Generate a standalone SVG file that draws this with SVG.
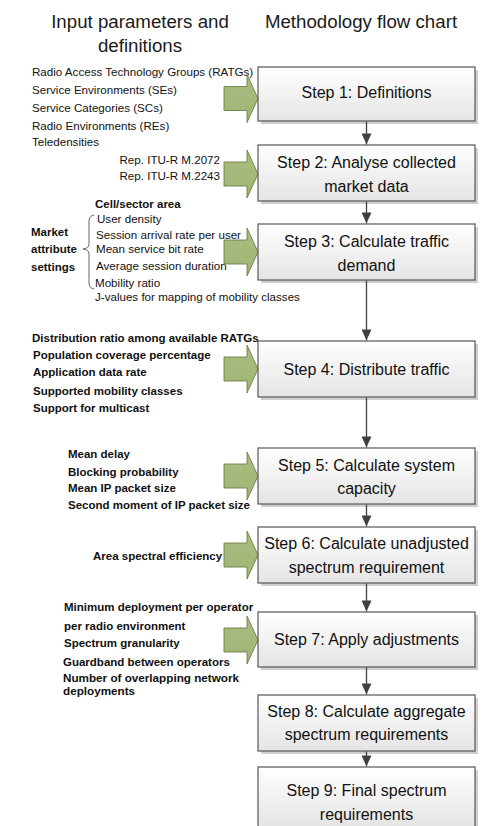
<svg xmlns="http://www.w3.org/2000/svg" width="486" height="826" viewBox="0 0 486 826">
<defs>
<linearGradient id="boxfill" x1="0" y1="0" x2="0" y2="1">
<stop offset="0" stop-color="#ffffff"/>
<stop offset="1" stop-color="#e4e4e4"/>
</linearGradient>
<linearGradient id="greenfill" x1="0" y1="0" x2="0" y2="1">
<stop offset="0" stop-color="#a9bd80"/>
<stop offset="1" stop-color="#9fb474"/>
</linearGradient>
<path id="garrow" d="M0,-12 H23 V-24 L34,0 L23,24 V12 H0 Z"/>
<marker id="ah" viewBox="0 0 11 10" refX="11" refY="5" markerWidth="11" markerHeight="10" markerUnits="userSpaceOnUse" orient="auto">
<path d="M0,0 L11,5 L0,10 Z" fill="#404040"/>
</marker>
</defs>
<style>
.hdr{font-family:"Liberation Sans",Arial,sans-serif;font-size:18.7px;fill:#1a1a1a;text-anchor:middle}
.in{font-family:"Liberation Sans",Arial,sans-serif;font-size:11.6px;fill:#111}
.inb{font-family:"Liberation Sans",Arial,sans-serif;font-size:11.5px;font-weight:bold;fill:#111}
.st{font-family:"Liberation Sans",Arial,sans-serif;font-size:16px;fill:#111;text-anchor:middle}
.box{fill:url(#boxfill);stroke:#555;stroke-width:1.2}
.shadow{fill:#cfcfcf}
.conn{stroke:#404040;stroke-width:1.3;fill:none}
.ga{fill:url(#greenfill);stroke:#6e7f45;stroke-width:0.9}
</style>
<rect width="486" height="826" fill="#ffffff"/>

<g id="headers">
<text class="hdr" x="140" y="28">Input parameters and</text>
<text class="hdr" x="140" y="52">definitions</text>
<text class="hdr" x="361" y="28">Methodology flow chart</text>
</g>

<g id="input-1">
<text class="in" x="32" y="76">Radio Access Technology Groups (RATGs)</text>
<text class="in" x="32" y="94">Service Environments (SEs)</text>
<text class="in" x="32" y="112">Service Categories (SCs)</text>
<text class="in" x="32" y="130">Radio Environments (REs)</text>
<text class="in" x="32" y="146">Teledensities</text>
</g>
<g id="input-2">
<text class="in" x="220" y="164" text-anchor="end">Rep. ITU-R M.2072</text>
<text class="in" x="220" y="180" text-anchor="end">Rep. ITU-R M.2243</text>
</g>
<g id="input-3">
<text class="inb" x="95" y="208">Cell/sector area</text>
<text class="in" x="97" y="223">User density</text>
<text class="in" x="96" y="239">Session arrival rate per user</text>
<text class="in" x="96" y="253">Mean service bit rate</text>
<text class="in" x="96" y="270">Average session duration</text>
<text class="in" x="95" y="287">Mobility ratio</text>
<text class="in" x="95" y="301">J-values for mapping of mobility classes</text>
<text class="inb" x="31" y="236">Market</text>
<text class="inb" x="31" y="253">attribute</text>
<text class="inb" x="31" y="271">settings</text>
<path d="M94,215 Q89,216 89,221 V244 Q89,248.5 83,249 Q89,249.5 89,254 V283 Q89,288 94,289" fill="none" stroke="#555" stroke-width="0.9"/>
</g>
<g id="input-4">
<text class="inb" x="32" y="342">Distribution ratio among available RATGs</text>
<text class="inb" x="33" y="359">Population coverage percentage</text>
<text class="inb" x="33" y="376">Application data rate</text>
<text class="inb" x="33" y="395">Supported mobility classes</text>
<text class="inb" x="33" y="412">Support for multicast</text>
</g>
<g id="input-5">
<text class="inb" x="68" y="458">Mean delay</text>
<text class="inb" x="68" y="476">Blocking probability</text>
<text class="inb" x="68" y="492">Mean IP packet size</text>
<text class="inb" x="68" y="509">Second moment of IP packet size</text>
</g>
<g id="input-6">
<text class="inb" x="93" y="560">Area spectral efficiency</text>
</g>
<g id="input-7">
<text class="inb" x="64" y="611">Minimum deployment per operator</text>
<text class="inb" x="64" y="630">per radio environment</text>
<text class="inb" x="64" y="647">Spectrum granularity</text>
<text class="inb" x="63" y="666">Guardband between operators</text>
<text class="inb" x="63" y="682" style="font-size:11.7px">Number of overlapping network</text>
<text class="inb" x="63" y="695" style="font-size:11.7px">deployments</text>
</g>

<g id="input-arrows">
<use href="#garrow" class="ga" transform="translate(224,98.5)"/>
<use href="#garrow" class="ga" transform="translate(224,174)"/>
<use href="#garrow" class="ga" transform="translate(224,252)"/>
<use href="#garrow" class="ga" transform="translate(224,369)"/>
<use href="#garrow" class="ga" transform="translate(224,476)"/>
<use href="#garrow" class="ga" transform="translate(224,555)"/>
<use href="#garrow" class="ga" transform="translate(224,640)"/>
</g>

<g id="step1">
<rect class="shadow" x="261" y="70" width="217" height="54"/>
<rect class="box" x="258" y="67" width="217" height="54"/>
<text class="st" x="366.5" y="98">Step 1: Definitions</text>
</g>
<g id="step2">
<rect class="shadow" x="261" y="148" width="217" height="56"/>
<rect class="box" x="258" y="145" width="217" height="56"/>
<text class="st" x="366.5" y="168">Step 2: Analyse collected</text>
<text class="st" x="366.5" y="192">market data</text>
</g>
<g id="step3">
<rect class="shadow" x="261" y="227" width="217" height="56"/>
<rect class="box" x="258" y="224" width="217" height="56"/>
<text class="st" x="366.5" y="247">Step 3: Calculate traffic</text>
<text class="st" x="366.5" y="271">demand</text>
</g>
<g id="step4">
<rect class="shadow" x="261" y="344" width="217" height="56"/>
<rect class="box" x="258" y="341" width="217" height="56"/>
<text class="st" x="366.5" y="375">Step 4: Distribute traffic</text>
</g>
<g id="step5">
<rect class="shadow" x="261" y="451" width="217" height="56"/>
<rect class="box" x="258" y="448" width="217" height="56"/>
<text class="st" x="366.5" y="471">Step 5: Calculate system</text>
<text class="st" x="366.5" y="494">capacity</text>
</g>
<g id="step6">
<rect class="shadow" x="261" y="530" width="217" height="56"/>
<rect class="box" x="258" y="527" width="217" height="56"/>
<text class="st" x="366.5" y="549">Step 6: Calculate unadjusted</text>
<text class="st" x="366.5" y="573">spectrum requirement</text>
</g>
<g id="step7">
<rect class="shadow" x="261" y="615" width="217" height="55"/>
<rect class="box" x="258" y="612" width="217" height="55"/>
<text class="st" x="366.5" y="645">Step 7: Apply adjustments</text>
</g>
<g id="step8">
<rect class="shadow" x="261" y="698" width="217" height="56"/>
<rect class="box" x="258" y="695" width="217" height="56"/>
<text class="st" x="366.5" y="717">Step 8: Calculate aggregate</text>
<text class="st" x="366.5" y="740">spectrum requirements</text>
</g>
<g id="step9">
<rect class="shadow" x="261" y="770" width="217" height="62"/>
<rect class="box" x="258" y="767" width="217" height="62"/>
<text class="st" x="366.5" y="796">Step 9: Final spectrum</text>
<text class="st" x="366.5" y="820">requirements</text>
</g>

<g id="connectors">
<line class="conn" x1="366.5" y1="121.6" x2="366.5" y2="144.4" marker-end="url(#ah)"/>
<line class="conn" x1="366.5" y1="201.6" x2="366.5" y2="223.4" marker-end="url(#ah)"/>
<line class="conn" x1="366.5" y1="280.6" x2="366.5" y2="340.4" marker-end="url(#ah)"/>
<line class="conn" x1="366.5" y1="397.6" x2="366.5" y2="447.4" marker-end="url(#ah)"/>
<line class="conn" x1="366.5" y1="504.6" x2="366.5" y2="526.4" marker-end="url(#ah)"/>
<line class="conn" x1="366.5" y1="583.6" x2="366.5" y2="611.4" marker-end="url(#ah)"/>
<line class="conn" x1="366.5" y1="667.6" x2="366.5" y2="694.4" marker-end="url(#ah)"/>
<line class="conn" x1="366.5" y1="751.6" x2="366.5" y2="766.4" marker-end="url(#ah)"/>
</g>
</svg>
